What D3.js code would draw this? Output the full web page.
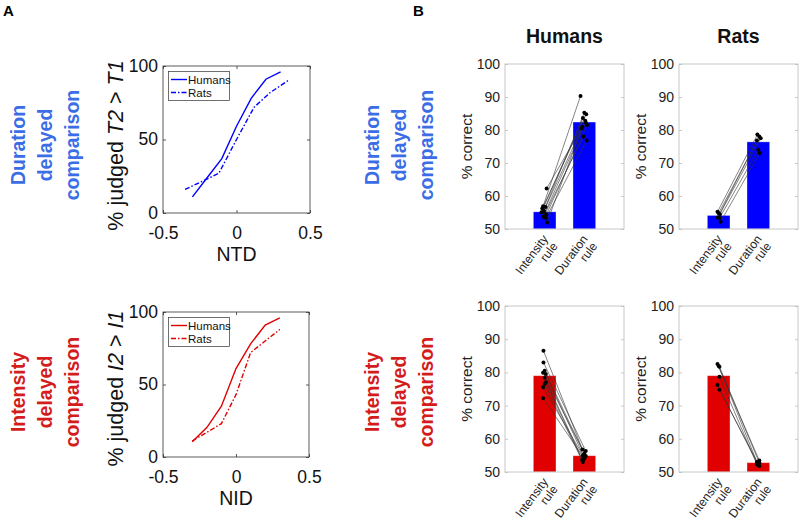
<!DOCTYPE html>
<html><head><meta charset="utf-8">
<script src="https://cdn.jsdelivr.net/npm/d3@7"></script>
<style>
body{margin:0;background:#fff;}
svg{font-family:"Liberation Sans",Arial,Helvetica,sans-serif;}
</style></head>
<body><svg id="c" width="800" height="523"></svg>
<script>
// ---------- DATA ----------
const xTicksLine = [-0.5, 0, 0.5];
const yTicksLine = [0, 50, 100];
// Duration delayed comparison psychometric curves
const ntdHumans = [-0.3, -0.2, -0.1, 0, 0.1, 0.2, 0.3];
const durHumansPct = [11, 24, 37, 59, 78, 91, 96];
const ntdRats = [-0.35, -0.12, 0, 0.12, 0.23, 0.35];
const durRatsPct = [16, 27, 50, 72, 82, 90];
// Intensity delayed comparison psychometric curves
const nidHumans = [-0.3, -0.2, -0.1, 0, 0.1, 0.2, 0.3];
const intHumansPct = [10.6, 20.3, 35, 61, 78, 91, 96];
const nidRats = [-0.3, -0.1, 0, 0.1, 0.2, 0.3];
const intRatsPct = [11, 23, 43, 72, 80, 88];

const ruleCategories = ["Intensity rule", "Duration rule"];
const yTicksBar = [50, 60, 70, 80, 90, 100];
// Duration task, humans
const durTaskHumansMean = [55.2, 82.4];
const durTaskHumansInt = [62.3, 56.9, 56.7, 56.2, 55.1, 54.8, 54.3, 53.7, 53.3, 52.0, 55.5];
const durTaskHumansDur = [80.5, 90.3, 85.2, 84.8, 83.6, 82.3, 81.5, 78.0, 76.8, 81.0, 82.8];
const durTaskHumansJit = [0.05, -0.04, 0.02, -0.06, -0.08, 0.0, 0.04, -0.03, 0.03, 0.06, -0.02];
// Duration task, rats
const durTaskRatsMean = [54.1, 76.4];
const durTaskRatsInt = [55.2, 54.8, 54.5, 53.5, 53.3, 52.2];
const durTaskRatsDur = [78.6, 78.0, 77.5, 76.8, 74.0, 73.0];
const durTaskRatsJit = [-0.03, 0.0, 0.03, -0.02, 0.02, 0.05];
// Intensity task, humans
const intTaskHumansMean = [79.0, 54.9];
const intTaskHumansInt = [86.5, 83.0, 80.5, 79.9, 79.5, 78.4, 77.0, 76.5, 75.5, 72.2];
const intTaskHumansDur = [56.8, 56.3, 55.5, 54.8, 54.3, 53.7, 53.5, 53.0, 55.0, 54.0];
const intTaskHumansJit = [-0.03, -0.03, 0.0, -0.04, 0.03, 0.0, 0.03, 0.0, -0.04, -0.04];
// Intensity task, rats
const intTaskRatsMean = [79.0, 52.8];
const intTaskRatsInt = [82.5, 81.9, 81.7, 78.7, 76.2, 74.8];
const intTaskRatsDur = [53.5, 53.0, 52.8, 52.3, 52.0, 51.8];
const intTaskRatsJit = [-0.03, 0.0, 0.02, 0.02, -0.03, 0.02];

// ---------- STYLE ----------
const BLUE = "#0000ff", RED = "#e00000";
const BLUE_LABEL = "#3b6ee6", RED_LABEL = "#d41c1c";
const svg = d3.select("#c");

// panel letters
svg.append("text").attr("x", 3).attr("y", 16).attr("font-size", 15).attr("font-weight", "bold").text("A");
svg.append("text").attr("x", 413).attr("y", 16).attr("font-size", 15).attr("font-weight", "bold").text("B");

// row labels
function rowLabel(cx, cy, lines, color) {
  const g = svg.append("g").attr("transform", `translate(${cx},${cy}) rotate(-90)`);
  const t = g.append("text").attr("text-anchor", "middle").attr("fill", color)
    .attr("font-size", 19.5).attr("font-weight", "bold");
  lines.forEach((l, i) => t.append("tspan").attr("x", 0).attr("y", (i - 1) * 27 + 7).text(l));
}
rowLabel(45, 145, ["Duration", "delayed", "comparison"], BLUE_LABEL);
rowLabel(45, 392, ["Intensity", "delayed", "comparison"], RED_LABEL);
rowLabel(399, 145, ["Duration", "delayed", "comparison"], BLUE_LABEL);
rowLabel(399, 392, ["Intensity", "delayed", "comparison"], RED_LABEL);

// ---------- LINE CHARTS ----------
function lineChart(box, series, color, xLabel, yLabelParts, yLabelShift) {
  const x = d3.scaleLinear().domain([-0.5, 0.5]).range([box.x0, box.x1]);
  const y = d3.scaleLinear().domain([0, 100]).range([box.y1, box.y0]);
  const g = svg.append("g");
  const axCol = "#333";
  g.append("rect").attr("x", box.x0).attr("y", box.y0).attr("width", box.x1 - box.x0)
    .attr("height", box.y1 - box.y0).attr("fill", "none").attr("stroke", axCol).attr("stroke-width", 0.8);
  const xa = g.append("g").attr("transform", `translate(0,${box.y1})`)
    .call(d3.axisBottom(x).tickValues(xTicksLine).tickSizeInner(-3).tickSizeOuter(0).tickPadding(15)
      .tickFormat(d => String(d)));
  const xt = g.append("g").attr("transform", `translate(0,${box.y0})`)
    .call(d3.axisTop(x).tickValues(xTicksLine).tickSizeInner(-3).tickSizeOuter(0).tickFormat(""));
  const ya = g.append("g").attr("transform", `translate(${box.x0},0)`)
    .call(d3.axisLeft(y).tickValues(yTicksLine).tickSizeInner(-3).tickSizeOuter(0).tickPadding(5));
  const yr = g.append("g").attr("transform", `translate(${box.x1},0)`)
    .call(d3.axisRight(y).tickValues(yTicksLine).tickSizeInner(-3).tickSizeOuter(0).tickFormat(""));
  [xa, xt, ya, yr].forEach(a => {
    a.select(".domain").remove();
    a.selectAll("line").attr("stroke", axCol).attr("stroke-width", 0.8);
    a.selectAll("text").attr("font-size", 17.5).attr("fill", "#111").attr("font-family", null);
  });
  xa.selectAll("text").attr("dy", "0.6em");
  ya.selectAll("text").attr("dy", "0.3em");
  const line = d3.line().x(d => x(d[0])).y(d => y(d[1]));
  series.forEach(s => {
    g.append("path").datum(s.xs.map((v, i) => [v, s.ys[i]])).attr("d", line)
      .attr("fill", "none").attr("stroke", color).attr("stroke-width", 1.4)
      .attr("stroke-dasharray", s.dash || null);
  });
  // legend
  const lx = box.x0 + 5.5, ly = box.y0 + 5.5;
  g.append("rect").attr("x", lx).attr("y", ly).attr("width", 61).attr("height", 29)
    .attr("fill", "#fff").attr("stroke", axCol).attr("stroke-width", 0.7);
  series.forEach((s, i) => {
    const yy = ly + 8 + i * 13;
    g.append("line").attr("x1", lx + 2.5).attr("x2", lx + 18.5).attr("y1", yy).attr("y2", yy)
      .attr("stroke", color).attr("stroke-width", 1.4).attr("stroke-dasharray", s.dash || null);
    g.append("text").attr("x", lx + 19.5).attr("y", yy + 4).attr("font-size", 11.5).attr("fill", "#111").text(s.name);
  });
  g.append("text").attr("x", (box.x0 + box.x1) / 2).attr("y", box.y1 + 48).attr("text-anchor", "middle")
    .attr("font-size", 19.5).attr("fill", "#111").text(xLabel);
  const yl = g.append("text").attr("transform", `translate(${box.x0 - 40},${(box.y0 + box.y1) / 2 + yLabelShift}) rotate(-90)`)
    .attr("text-anchor", "middle").attr("font-size", 21.5).attr("fill", "#111");
  yLabelParts.forEach(p => yl.append("tspan").attr("font-style", p.it ? "italic" : null).text(p.t));
}
lineChart({x0: 163, x1: 310, y0: 66, y1: 213}, [
  {name: "Humans", xs: ntdHumans, ys: durHumansPct},
  {name: "Rats", xs: ntdRats, ys: durRatsPct, dash: "5,2,1.5,2"}
], BLUE, "NTD", [{t: "% judged "}, {t: "T2", it: true}, {t: " > "}, {t: "T1", it: true}], 6);
lineChart({x0: 163, x1: 309, y0: 312, y1: 457}, [
  {name: "Humans", xs: nidHumans, ys: intHumansPct},
  {name: "Rats", xs: nidRats, ys: intRatsPct, dash: "5,2,1.5,2"}
], RED, "NID", [{t: "% judged "}, {t: "I2", it: true}, {t: " > "}, {t: "I1", it: true}], 4);

// ---------- BAR CHARTS ----------
function barChart(box, means, ints, durs, jit, color, title) {
  const x = d3.scaleLinear().domain([0, 3]).range([box.x0, box.x1]);
  const y = d3.scaleLinear().domain([50, 100]).range([box.y1, box.y0]);
  const g = svg.append("g");
  const axCol = "#c8c8c8";
  const bw = 0.57;
  g.selectAll("rect.bar").data(means).join("rect").attr("class", "bar")
    .attr("x", (d, i) => x(i + 1 - bw / 2)).attr("width", x(bw) - x(0))
    .attr("y", d => y(d)).attr("height", d => y(50) - y(d))
    .attr("fill", color).attr("stroke", "#ffffff").attr("stroke-opacity", 0.35).attr("stroke-width", 0.8);
  g.append("rect").attr("x", box.x0).attr("y", box.y0).attr("width", box.x1 - box.x0)
    .attr("height", box.y1 - box.y0).attr("fill", "none").attr("stroke", axCol).attr("stroke-width", 1);
  const ya = g.append("g").attr("transform", `translate(${box.x0},0)`)
    .call(d3.axisLeft(y).tickValues(yTicksBar).tickSizeInner(-3).tickSizeOuter(0).tickPadding(5));
  const yr = g.append("g").attr("transform", `translate(${box.x1},0)`)
    .call(d3.axisRight(y).tickValues(yTicksBar).tickSizeInner(-3).tickSizeOuter(0).tickFormat(""));
  [ya, yr].forEach(a => {
    a.select(".domain").remove();
    a.selectAll("line").attr("stroke", "#bbb").attr("stroke-width", 0.8);
    a.selectAll("text").attr("font-size", 14).attr("fill", "#222").attr("font-family", null);
  });
  const pts = ints.map((v, i) => ({a: [1 + jit[i], v], b: [2 + jit[(i + 3) % jit.length] * 1.2, durs[i]]}));
  g.selectAll("line.subj").data(pts).join("line").attr("class", "subj")
    .attr("x1", d => x(d.a[0])).attr("y1", d => y(d.a[1])).attr("x2", d => x(d.b[0])).attr("y2", d => y(d.b[1]))
    .attr("stroke", "#333").attr("stroke-width", 0.6);
  g.selectAll("circle.subj").data(pts.flatMap(d => [d.a, d.b])).join("circle").attr("class", "subj")
    .attr("cx", d => x(d[0])).attr("cy", d => y(d[1])).attr("r", 2).attr("fill", "#000");
  ruleCategories.forEach((c, i) => {
    const parts = c.split(" ");
    const tg = g.append("g").attr("transform", `translate(${x(i + 1) + 4},${box.y1 + 10}) rotate(-53)`);
    const t = tg.append("text").attr("text-anchor", "end").attr("font-size", 12.2).attr("fill", "#222");
    t.append("tspan").attr("x", 0).attr("y", 0).text(parts[0]);
    t.append("tspan").attr("x", 0).attr("y", 12).text(parts[1]);
  });
  g.append("text").attr("transform", `translate(${box.x0 - 33},${(box.y0 + box.y1) / 2}) rotate(-90)`)
    .attr("text-anchor", "middle").attr("font-size", 15.5).attr("fill", "#222").text("% correct");
  if (title) {
    g.append("text").attr("x", (box.x0 + box.x1) / 2).attr("y", 43).attr("text-anchor", "middle")
      .attr("font-size", 19.5).attr("font-weight", "bold").attr("fill", "#111").text(title);
  }
}
barChart({x0: 505, x1: 624, y0: 64, y1: 229}, durTaskHumansMean, durTaskHumansInt, durTaskHumansDur, durTaskHumansJit, BLUE, "Humans");
barChart({x0: 679, x1: 798, y0: 64, y1: 229}, durTaskRatsMean, durTaskRatsInt, durTaskRatsDur, durTaskRatsJit, BLUE, "Rats");
barChart({x0: 505, x1: 624, y0: 306, y1: 472}, intTaskHumansMean, intTaskHumansInt, intTaskHumansDur, intTaskHumansJit, RED, null);
barChart({x0: 679, x1: 798, y0: 306, y1: 472}, intTaskRatsMean, intTaskRatsInt, intTaskRatsDur, intTaskRatsJit, RED, null);
</script></body></html>
